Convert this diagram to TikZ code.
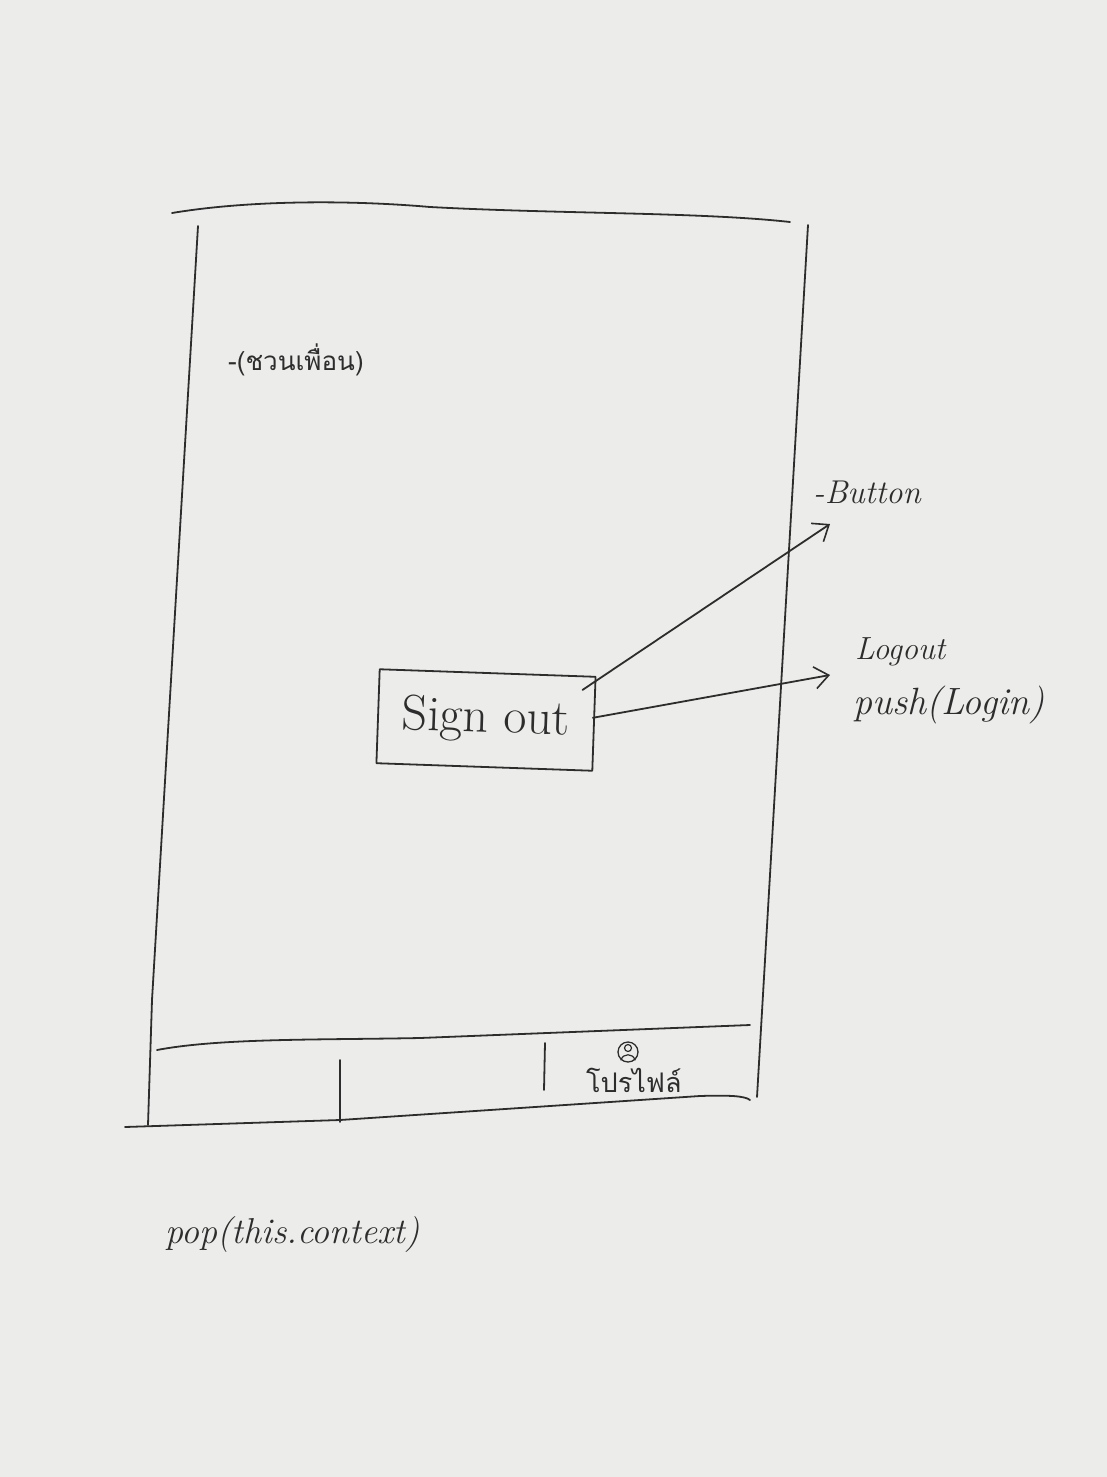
\documentclass[tikz,border=0pt]{standalone}
\usepackage{fontspec}
\newfontfamily\thaifont[Script=Thai]{Loma}
\usetikzlibrary{arrows.meta}
\definecolor{paper}{RGB}{236,236,235}
\definecolor{pencil}{RGB}{45,45,45}
\tikzset{
  pen/.style={draw=pencil, line width=1.8pt, line cap=round, line join=round},
  note/.style={text=pencil, anchor=west, inner sep=0pt},
  arrowline/.style={pen, -{Straight Barb[length=14pt,width=22pt,line width=1.6pt]}}
}
\begin{document}
\begin{tikzpicture}[x=1pt,y=-1pt]
\useasboundingbox (0,0) rectangle (1107,1477);
\fill[paper] (0,0) rectangle (1107,1477);
% phone frame
\draw[pen] (172,213) .. controls (250,200) and (350,200) .. (430,207) .. controls (560,214) and (700,212) .. (790,222);
\draw[pen] (198,226) -- (152,1000) -- (148,1125);
\draw[pen] (808,225) -- (757,1097);
% bottom navigation bar
\draw[pen] (157,1050) .. controls (220,1038) and (320,1040) .. (420,1038) -- (750,1025);
\draw[pen] (125,1127) -- (340,1120) -- (520,1108) -- (700,1096) .. controls (730,1095) and (745,1096) .. (750,1100);
\draw[pen] (340,1060) -- (340,1122);
\draw[pen] (545,1043) -- (544,1090);
% profile icon
\draw[pen, line width=1.3pt] (628,1052) circle (10);
\draw[pen, line width=1.2pt] (628,1048) circle (3.5);
\draw[pen, line width=1.2pt] (621,1060) .. controls (623,1053) and (633,1053) .. (635,1060);
\node[note, font=\thaifont\fontsize{27}{28}\selectfont] (profile) at (586,1080) {โปรไฟล์};
% title label
\node[note, font=\thaifont\fontsize{26}{28}\selectfont] (title) at (228,360) {-(ชวนเพื่อน)};
% sign out button
\node[pen, rotate=-2, minimum width=216pt, minimum height=94pt, inner sep=0pt,
      font=\fontsize{50}{52}\selectfont, text=pencil] (signout) at (486,720) {Sign out};
% annotations
\node[note, font=\fontsize{33}{35}\selectfont\itshape] (button) at (813,492) {-Button};
\node[note, font=\fontsize{32}{34}\selectfont\itshape] (logout) at (855,652) {Logout};
\node[note, font=\fontsize{38}{40}\selectfont\itshape] (push) at (853,705) {push(Login)};
\node[note, font=\fontsize{36}{38}\selectfont\itshape] (pop) at (165,1235) {pop(this.context)};
\coordinate (btnend) at (830,524);
\coordinate (logend) at (830,675);
\draw[arrowline] (signout.north east) ++(-14,14) -- (btnend);
\draw[arrowline] (signout.east) ++(-2,-6) -- (logend);
\end{tikzpicture}
\end{document}
